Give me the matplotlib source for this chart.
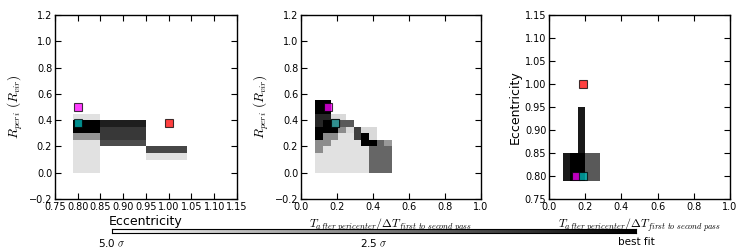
import numpy as np
import matplotlib.pyplot as plt

plt.rcParams['mathtext.fontset'] = 'cm'
plt.rcParams['font.size'] = 7

# three model points: eccentricity, R_peri, T fraction
modelColors = ['red', 'magenta', 'c']
modelEcc = [1.0, 0.8, 0.8]
modelRperi = [0.375, 0.5, 0.375]
modelT = [0.19, 0.15, 0.19]

# bin edges
eccEdges = [0.79, 0.85, 0.95, 1.04]
rperiEdges = [0.0, 0.05, 0.10, 0.15, 0.20, 0.25, 0.30, 0.35, 0.40, 0.45, 0.50, 0.55]
tEdges = [0.08, 0.1225, 0.165, 0.2075, 0.25, 0.2925, 0.335, 0.3775, 0.42, 0.4625, 0.505]
tEdgesRight = [0.075, 0.117, 0.158, 0.2, 0.242, 0.284]
eccEdgesRight = [0.79, 0.85, 0.95]

# likelihood level (0 = outside 5 sigma, 1 = best fit), rows = R_peri bins, cols = ecc bins
gridEccR = [
    [0.12, 0.00, 0.00],
    [0.12, 0.00, 0.00],
    [0.12, 0.00, 0.12],
    [0.12, 0.00, 0.72],
    [0.12, 0.70, 0.00],
    [0.42, 0.78, 0.00],
    [1.00, 0.78, 0.00],
    [1.00, 0.88, 0.00],
    [0.12, 0.00, 0.00],
]

# rows = R_peri bins, cols = T bins
gridTR = [
    [0.12, 0.12, 0.12, 0.12, 0.12, 0.12, 0.12, 0.60, 0.60, 0.60],
    [0.12, 0.12, 0.12, 0.12, 0.12, 0.12, 0.12, 0.60, 0.60, 0.60],
    [0.12, 0.12, 0.12, 0.12, 0.12, 0.12, 0.12, 0.60, 0.60, 0.60],
    [0.45, 0.12, 0.12, 0.12, 0.12, 0.12, 0.12, 0.60, 0.60, 0.60],
    [0.45, 0.45, 0.12, 0.12, 0.12, 0.12, 1.00, 1.00, 0.60, 0.40],
    [1.00, 0.45, 0.45, 0.12, 0.12, 0.75, 1.00, 0.15, 0.00, 0.00],
    [1.00, 1.00, 1.00, 0.45, 0.15, 0.75, 0.15, 0.15, 0.00, 0.00],
    [0.85, 1.00, 1.00, 0.65, 0.65, 0.00, 0.00, 0.00, 0.00, 0.00],
    [0.85, 0.85, 0.15, 0.15, 0.00, 0.00, 0.00, 0.00, 0.00, 0.00],
    [1.00, 1.00, 0.00, 0.00, 0.00, 0.00, 0.00, 0.00, 0.00, 0.00],
    [1.00, 1.00, 0.00, 0.00, 0.00, 0.00, 0.00, 0.00, 0.00, 0.00],
]

# rows = ecc bins, cols = T bins
gridTE = [
    [0.90, 1.00, 1.00, 0.65, 0.65],
    [0.00, 0.00, 0.90, 0.00, 0.00],
]

cbarLabels = ['5.0 $\\sigma$', '2.5 $\\sigma$', 'best fit']

tLabel = r'$T_{after\ pericenter}/\Delta T_{first\ to\ second\ pass}$'
rLabel = r'$R_{peri}\ (R_{vir})$'


def style_axes(ax):
    ax.tick_params(direction='in', top=True, right=True, length=4, width=0.8, labelsize=7, pad=2)
    for s in ax.spines.values():
        s.set_linewidth(1.0)


def draw_models(ax, xs, ys):
    for x, y, c in zip(xs, ys, modelColors):
        ax.plot(x, y, 's', color=c, alpha=0.75, markersize=6,
                markeredgecolor='k', markeredgewidth=0.8, zorder=5)


fig = plt.figure(figsize=(7.48, 2.48), dpi=100)

# left panel
ax1 = fig.add_axes([0.0735, 0.1976, 0.2433, 0.742])
ax1.pcolormesh(eccEdges, rperiEdges[:10], np.ma.masked_equal(np.array(gridEccR), 0),
               cmap='gray_r', vmin=0, vmax=1)
draw_models(ax1, modelEcc, modelRperi)
ax1.set_xlim(0.75, 1.15)
ax1.set_ylim(-0.2, 1.2)
ax1.set_xticks(np.arange(0.75, 1.151, 0.05))
ax1.set_xlabel('Eccentricity', fontsize=9, labelpad=2)
ax1.set_ylabel(rLabel, fontsize=9.5, labelpad=3)
style_axes(ax1)

# middle panel
ax2 = fig.add_axes([0.4024, 0.1976, 0.2406, 0.742])
ax2.pcolormesh(tEdges, rperiEdges, np.ma.masked_equal(np.array(gridTR), 0),
               cmap='gray_r', vmin=0, vmax=1)
draw_models(ax2, modelT, modelRperi)
ax2.set_xlim(0, 1)
ax2.set_ylim(-0.2, 1.2)
ax2.set_xlabel(tLabel, fontsize=8.5, labelpad=3)
ax2.set_ylabel(rLabel, fontsize=9.5, labelpad=3)
style_axes(ax2)

# right panel
ax3 = fig.add_axes([0.734, 0.1976, 0.242, 0.742])
ax3.pcolormesh(tEdgesRight, eccEdgesRight, np.ma.masked_equal(np.array(gridTE), 0),
               cmap='gray_r', vmin=0, vmax=1)
draw_models(ax3, modelT, modelEcc)
ax3.set_xlim(0, 1)
ax3.set_ylim(0.75, 1.15)
ax3.set_yticks(np.arange(0.75, 1.151, 0.05))
ax3.set_xlabel(tLabel, fontsize=8.5, labelpad=3)
ax3.set_ylabel('Eccentricity', fontsize=9, labelpad=2)
style_axes(ax3)

# colour bar along the bottom
cax = fig.add_axes([0.1497, 0.06, 0.7005, 0.018])
cax.imshow(np.linspace(0, 1, 256)[None, :], aspect='auto', cmap='gray_r',
           extent=[0, 1, 0, 1])
cax.set_yticks([])
cax.set_xticks([0, 0.5, 1])
cax.set_xticklabels(cbarLabels, fontsize=7.5)
cax.tick_params(length=0, pad=3)

plt.savefig('out.png', dpi=100)
